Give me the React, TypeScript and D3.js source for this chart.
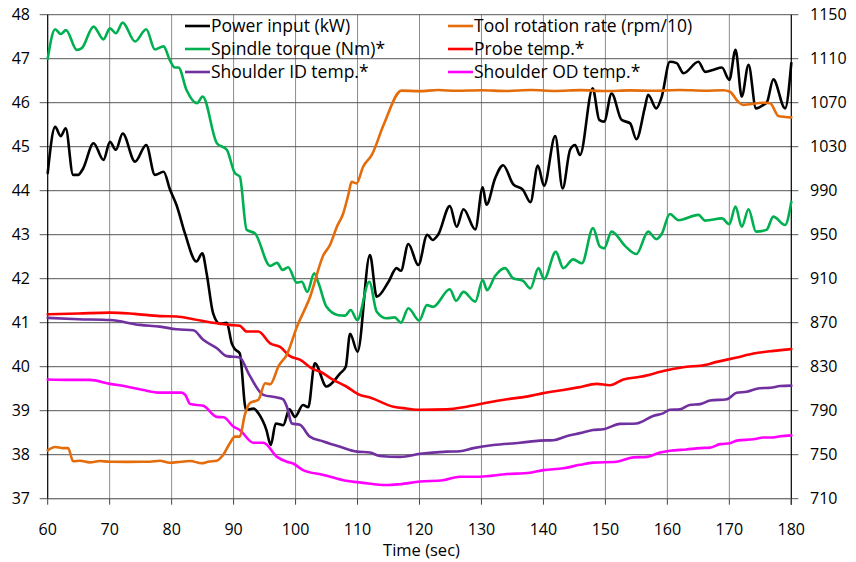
import React from 'react';
import * as d3 from 'd3';

// time (sec), value
const powerInput = [
  [60, 44.4], [61.2, 45.45], [62.1, 45.24], [62.9, 45.42], [64.1, 44.36], [64.9, 44.36], [65.7, 44.5],
  [67.4, 45.08], [69.0, 44.7], [70.05, 45.11], [71.0, 44.93], [72.1, 45.3], [74.1, 44.66], [75.9, 45.04],
  [77.3, 44.36], [78.7, 44.43], [79.75, 44.02], [80.8, 43.67], [82.15, 43.03], [84.0, 42.39], [84.95, 42.58],
  [85.65, 42.12], [86.7, 41.21], [87.8, 40.97], [88.9, 41.0], [89.7, 40.53], [90.2, 40.4], [91.0, 40.3],
  [92.0, 39.02], [93.2, 39.05], [94.0, 38.94], [95.3, 38.56], [96.0, 38.22], [96.8, 38.71], [98.0, 38.67],
  [99.0, 39.03], [99.9, 38.86], [101.2, 39.13], [102.05, 39.08], [103.1, 40.08], [105.0, 39.55], [107.2, 39.85],
  [108.1, 40.0], [108.8, 40.75], [110.0, 40.34], [112.0, 42.54], [113.1, 41.59], [115.0, 41.93], [116.3, 42.24],
  [117.0, 42.18], [118.2, 42.79], [119.8, 42.31], [121.25, 43.0], [122.1, 42.88], [123.0, 43.0], [124.9, 43.65],
  [126.0, 43.18], [127.1, 43.58], [129.0, 43.12], [130.2, 44.08], [130.8, 43.68], [132.2, 44.28], [133.5, 44.58],
  [135.1, 44.15], [136.7, 44.02], [137.9, 43.74], [139.1, 44.57], [140.1, 44.11], [141.9, 45.24], [143.1, 44.05],
  [144.3, 44.93], [145.1, 45.04], [145.9, 44.81], [147.95, 46.33], [149.0, 45.61], [149.8, 45.57], [151.0, 46.21],
  [152.6, 45.61], [154.0, 45.53], [155.0, 45.17], [156.4, 45.91], [156.9, 46.18], [158.2, 45.87], [159.1, 46.14],
  [160.4, 46.93], [161.5, 46.9], [162.6, 46.67], [165.0, 46.93], [166.1, 46.7], [167.5, 46.75], [168.8, 46.8],
  [170.0, 46.52], [171.0, 47.2], [172.0, 46.14], [173.1, 46.86], [174.3, 45.87], [175.5, 45.95], [176.1, 46.02],
  [177.1, 46.53], [179.0, 45.87], [180, 46.9],
];

const spindleTorque = [
  [60, 47.0], [61.2, 47.67], [62.1, 47.56], [62.95, 47.65], [64.7, 47.2], [65.5, 47.24], [67.4, 47.73],
  [69.0, 47.44], [70.05, 47.69], [71.0, 47.58], [72.1, 47.82], [74.1, 47.39], [75.9, 47.67], [77.3, 47.21],
  [78.7, 47.28], [79.7, 46.97], [80.5, 46.8], [81.1, 46.8], [82.4, 46.29], [84.1, 45.99], [85.0, 46.14],
  [87.3, 45.08], [88.9, 44.93], [90.2, 44.4], [91.0, 44.32], [92.1, 43.11], [93.45, 43.03], [95.9, 42.29],
  [97.0, 42.36], [97.9, 42.2], [98.8, 42.26], [100.2, 41.91], [101.0, 41.93], [101.9, 41.7], [103.0, 42.12],
  [103.7, 41.9], [105.0, 41.36], [106.9, 41.17], [108.0, 41.16], [108.9, 41.29], [109.95, 41.06], [111.9, 41.93],
  [113.1, 41.25], [114.7, 41.1], [116.0, 41.12], [117.0, 41.0], [118.2, 41.33], [119.95, 41.05], [121.2, 41.4],
  [122.2, 41.36], [124.9, 41.76], [125.9, 41.5], [127.1, 41.7], [129.0, 41.48], [130.2, 41.97], [130.9, 41.74],
  [132.2, 42.06], [133.8, 42.24], [135.1, 42.01], [136.7, 41.95], [137.9, 41.78], [139.2, 42.24], [140.1, 41.99],
  [142.0, 42.61], [143.2, 42.24], [144.8, 42.44], [146.2, 42.35], [148.0, 43.15], [149.1, 42.73], [149.8, 42.69],
  [151.0, 43.07], [153.2, 42.74], [155.0, 42.56], [156.9, 43.07], [158.2, 42.9], [159.1, 43.02], [160.4, 43.47],
  [161.8, 43.33], [165.0, 43.45], [166.1, 43.32], [168.8, 43.37], [170.0, 43.24], [171.0, 43.64], [172.0, 43.18],
  [173.1, 43.58], [174.3, 43.07], [176.0, 43.11], [177.1, 43.41], [179.0, 43.22], [180, 43.75],
];

// rpm/10, right axis
const toolRotation = [
  [60, 754], [61.2, 757], [62.5, 756], [63.3, 756], [64.1, 744], [65.2, 744.5], [66.8, 743], [68.4, 744.3],
  [70, 743.6], [73, 743.5], [76.5, 743.6], [78.1, 744.5], [79.7, 742.7], [81.5, 743.6], [83, 744.3],
  [84.85, 742.2], [85.9, 743.6], [87.3, 744.5], [88.3, 749.7], [89.4, 760.4], [90.2, 766.4], [91.0, 766.4],
  [91.8, 786], [92.65, 797], [94.0, 800], [95.1, 815], [95.9, 814], [97.3, 831], [98.6, 841], [100.2, 866],
  [102.35, 893.6], [104.5, 931.5], [105.55, 940.6], [106.65, 957], [107.7, 969.5], [108.5, 986], [109.05, 998],
  [109.85, 996.7], [110.9, 1011.8], [112.3, 1022.5], [114.2, 1049.7], [117.1, 1081], [120, 1080.5],
  [123, 1081.5], [126, 1080.8], [130, 1081.3], [134, 1080.6], [138, 1081.5], [142, 1080.7], [146, 1081.4],
  [150, 1080.6], [154, 1081.2], [158, 1080.8], [162, 1081.6], [166, 1080.9], [169, 1081.3], [170.1, 1080],
  [171.4, 1071], [172.2, 1068], [175.5, 1070], [176.6, 1069.5], [177.9, 1058], [180, 1056.7],
];

const probeTemp = [
  [60, 41.19], [65, 41.21], [70, 41.23], [74, 41.2], [78.1, 41.15], [80.8, 41.14], [83.5, 41.08], [86.7, 41.0],
  [89.4, 40.95], [91.0, 40.93], [92.1, 40.8], [94.0, 40.8], [95.9, 40.53], [97.5, 40.45], [99.1, 40.24],
  [100.7, 40.16], [102.9, 39.94], [103.9, 39.89], [106.1, 39.7], [108.2, 39.55], [110.35, 39.36], [112.0, 39.3],
  [115.8, 39.09], [117.9, 39.05], [120.1, 39.02], [124.4, 39.03], [127.6, 39.09], [130.8, 39.18], [134.1, 39.26],
  [137.3, 39.32], [140.0, 39.4], [143.2, 39.47], [145.6, 39.53], [148.6, 39.61], [150.7, 39.58], [152.9, 39.71],
  [155.6, 39.77], [159.9, 39.92], [163.1, 40.0], [165.3, 40.02], [168.0, 40.11], [171.2, 40.21], [173.9, 40.3],
  [177.1, 40.36], [180, 40.4],
];

const shoulderIdTemp = [
  [60, 41.11], [65, 41.08], [70.05, 41.06], [74.9, 40.95], [78.1, 40.91], [80.8, 40.85], [83.5, 40.83],
  [85.1, 40.61], [87.3, 40.42], [88.9, 40.24], [91.0, 40.21], [92.4, 39.85], [94.8, 39.36], [97.0, 39.3],
  [98.0, 39.26], [98.6, 39.09], [99.4, 38.71], [100.7, 38.68], [102.3, 38.41], [104.5, 38.3], [107.2, 38.18],
  [109.9, 38.07], [112.0, 38.05], [113.6, 37.97], [116.9, 37.95], [120.1, 38.02], [124.4, 38.07], [126.5, 38.08],
  [128.7, 38.15], [131.9, 38.22], [136.2, 38.27], [139.4, 38.32], [141.6, 38.33], [143.7, 38.42], [145.9, 38.49],
  [148.0, 38.56], [149.7, 38.58], [152.35, 38.7], [155.0, 38.71], [157.7, 38.88], [159.3, 38.94], [160.4, 39.02],
  [162.0, 39.03], [163.6, 39.13], [165.3, 39.15], [166.9, 39.23], [169.6, 39.26], [171.2, 39.41], [172.8, 39.43],
  [174.9, 39.51], [176.6, 39.52], [178.2, 39.56], [180, 39.57],
];

const shoulderOdTemp = [
  [60, 39.71], [63.6, 39.7], [66.8, 39.7], [70.05, 39.61], [72.7, 39.55], [75.4, 39.47], [78.1, 39.41],
  [81.6, 39.41], [82.2, 39.36], [83.0, 39.15], [85.1, 39.11], [87.3, 38.86], [88.4, 38.85], [89.95, 38.64],
  [91.0, 38.56], [93.2, 38.27], [94.8, 38.27], [97.0, 37.95], [98.6, 37.84], [99.6, 37.8], [101.2, 37.65],
  [104.5, 37.54], [107.7, 37.42], [110.9, 37.36], [114.7, 37.31], [116.8, 37.33], [120.1, 37.39], [123.8, 37.42],
  [126.5, 37.5], [129.7, 37.5], [134.1, 37.56], [137.8, 37.59], [140.0, 37.65], [143.2, 37.69], [145.9, 37.77],
  [148.0, 37.82], [151.8, 37.84], [154.5, 37.94], [156.7, 37.95], [158.8, 38.05], [160.4, 38.09], [163.1, 38.12],
  [165.3, 38.15], [166.9, 38.16], [168.5, 38.24], [170.1, 38.26], [171.2, 38.32], [173.9, 38.35], [175.5, 38.39],
  [177.1, 38.39], [178.2, 38.42], [180, 38.44],
];

const xTicks = [60, 70, 80, 90, 100, 110, 120, 130, 140, 150, 160, 170, 180];
const leftTicks = [37, 38, 39, 40, 41, 42, 43, 44, 45, 46, 47, 48];
const rightTicks = [710, 750, 790, 830, 870, 910, 950, 990, 1030, 1070, 1110, 1150];

const legendLeft = ['Power input (kW)', 'Spindle torque (Nm)*', 'Shoulder ID temp.*'];
const legendRight = ['Tool rotation rate (rpm/10)', 'Probe temp.*', 'Shoulder OD temp.*'];

const W = 856;
const H = 562;
const m = { left: 47.7, right: 791.3, top: 14.7, bottom: 498.7 };
const font = '"Open Sans", sans-serif';

export default function App() {
  const x = d3.scaleLinear().domain([60, 180]).range([m.left, m.right]);
  const yL = d3.scaleLinear().domain([37, 48]).range([m.bottom, m.top]);
  const yR = d3.scaleLinear().domain([710, 1150]).range([m.bottom, m.top]);

  const lineL = d3.line<number[]>().x(d => x(d[0])).y(d => yL(d[1])).curve(d3.curveMonotoneX);
  const lineR = d3.line<number[]>().x(d => x(d[0])).y(d => yR(d[1])).curve(d3.curveMonotoneX);

  const primary = [
    { data: powerInput, color: '#000000' },
    { data: spindleTorque, color: '#00b050' },
    { data: probeTemp, color: '#ff0000' },
    { data: shoulderIdTemp, color: '#7030a0' },
    { data: shoulderOdTemp, color: '#ff00ff' },
  ];
  const leftColors = ['#000000', '#00b050', '#7030a0'];
  const rightColors = ['#e46c0a', '#ff0000', '#ff00ff'];

  return (
    <svg width={W} height={H} style={{ position: 'absolute', left: 0, top: 0, background: '#fff' }}
      fontFamily={font}>
      {/* grid */}
      {xTicks.slice(1, -1).map(t => (
        <line key={'gx' + t} x1={x(t)} x2={x(t)} y1={m.top} y2={m.bottom} stroke="#8c8c8c" strokeWidth={1} />
      ))}
      {leftTicks.map(t => (
        <line key={'gy' + t} x1={m.left - 8} x2={m.right + 7} y1={yL(t)} y2={yL(t)} stroke="#555" strokeWidth={1} />
      ))}
      <line x1={m.left} x2={m.left} y1={m.top} y2={m.bottom} stroke="#000" strokeWidth={1.2} />
      <line x1={m.right} x2={m.right} y1={m.top} y2={m.bottom + 6} stroke="#000" strokeWidth={1.2} />
      <line x1={m.left} x2={m.right} y1={m.bottom} y2={m.bottom} stroke="#777" strokeWidth={1} />
      {xTicks.map(t => (
        <line key={'tx' + t} x1={x(t)} x2={x(t)} y1={m.bottom} y2={m.bottom + 6} stroke="#444" strokeWidth={1} />
      ))}

      {/* axis labels */}
      {leftTicks.map(t => (
        <text key={'lt' + t} x={30} y={yL(t)} dy="0.35em" textAnchor="end" fontSize={16} fill="#000">{t}</text>
      ))}
      {rightTicks.map(t => (
        <text key={'rt' + t} x={810} y={yR(t)} dy="0.35em" textAnchor="start" fontSize={16} fill="#000">{t}</text>
      ))}
      {xTicks.map(t => (
        <text key={'xt' + t} x={x(t)} y={529} dy="0.35em" textAnchor="middle" fontSize={16} fill="#000">{t}</text>
      ))}
      <text x={421.5} y={550.5} dy="0.35em" textAnchor="middle" fontSize={16.5} fill="#000">Time (sec)</text>

      {/* series */}
      {primary.map((s, i) => (
        <path key={'s' + i} d={lineL(s.data) || ''} fill="none" stroke={s.color} strokeWidth={2.6}
          strokeLinejoin="round" strokeLinecap="round" />
      ))}
      <path d={lineR(toolRotation) || ''} fill="none" stroke="#e46c0a" strokeWidth={2.6}
        strokeLinejoin="round" strokeLinecap="round" />

      {/* legend */}
      {legendLeft.map((name, i) => (
        <g key={'ll' + i} transform={`translate(185,${26 + i * 23})`}>
          <line x1={0} x2={25} y1={0} y2={0} stroke={leftColors[i]} strokeWidth={2.6} />
          <text x={26} y={0} dy="0.35em" fontSize={17.5} fill="#000">{name}</text>
        </g>
      ))}
      {legendRight.map((name, i) => (
        <g key={'lr' + i} transform={`translate(448,${26 + i * 23})`}>
          <line x1={0} x2={25} y1={0} y2={0} stroke={rightColors[i]} strokeWidth={2.6} />
          <text x={26} y={0} dy="0.35em" fontSize={17.5} fill="#000">{name}</text>
        </g>
      ))}
    </svg>
  );
}
